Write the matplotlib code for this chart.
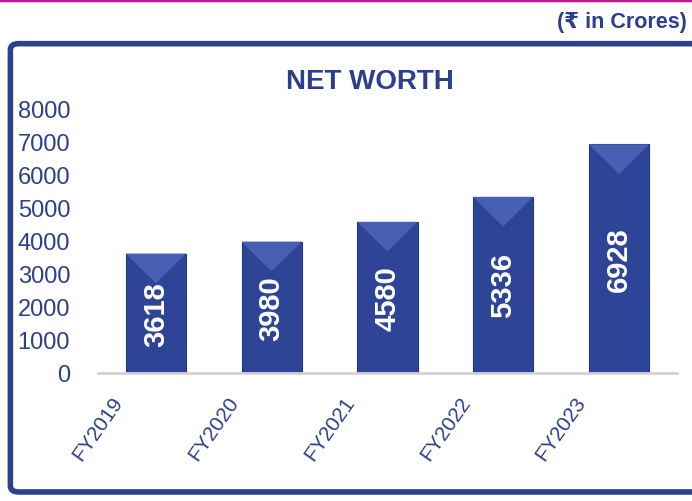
import matplotlib.pyplot as plt
from matplotlib.patches import FancyBboxPatch, Polygon
from matplotlib.transforms import ScaledTranslation

# chart data
years = ['FY2019', 'FY2020', 'FY2021', 'FY2022', 'FY2023']
net_worth = [3618, 3980, 4580, 5336, 6928]
y_ticks = [0, 1000, 2000, 3000, 4000, 5000, 6000, 7000, 8000]

BLUE_TEXT = '#2C3E8E'
BAR_BLUE = '#2E4597'
FRAME_BLUE = '#2E418F'

plt.rcParams['font.family'] = ['Liberation Sans', 'DejaVu Sans']

fig = plt.figure(figsize=(6.92, 5.02), dpi=100)

# magenta strip at the top
fig.add_artist(plt.Line2D([0, 1], [0.998, 0.998], color='#C2168D', lw=2.5,
                          transform=fig.transFigure))

# unit note
fig.text(0.992, 0.956, '(\u20b9 in Crores)', ha='right', va='center',
         fontsize=15.5, fontweight='bold', color=BLUE_TEXT)

# outer rounded frame
frame = FancyBboxPatch((0.015, 0.018), 1.2, 0.893,
                       boxstyle='round,pad=0,rounding_size=0.012',
                       transform=fig.transFigure, fill=False,
                       edgecolor=FRAME_BLUE, lw=4, clip_on=False)
fig.add_artist(frame)

fig.text(0.535, 0.837, 'NET WORTH', ha='center', va='center',
         fontsize=20, fontweight='bold', color=BLUE_TEXT)

ax = fig.add_axes([0.1416, 0.255, 0.8365, 0.526])
x = range(len(years))
bar_w = 0.52
bars = ax.bar(x, net_worth, width=bar_w, color=BAR_BLUE,
              edgecolor='#24387F', lw=0.8, zorder=2)

# simple bevel look on top of each bar
for b in bars:
    x0 = b.get_x()
    x1 = x0 + b.get_width()
    h = b.get_height()
    xc = x0 + b.get_width() / 2
    depth = 900
    top = Polygon([(x0, h), (x1, h), (xc, h - depth)], closed=True,
                  facecolor='#4860B2', edgecolor='none', zorder=3)
    ax.add_patch(top)

for xi, v in zip(x, net_worth):
    ax.text(xi, v / 2, str(v), rotation=90, ha='center', va='center',
            color='white', fontsize=21, fontweight='bold', zorder=4)

ax.set_xlim(-0.5, 4.5)
ax.set_ylim(0, 8000)
ax.set_yticks(y_ticks)
ax.set_yticklabels([str(t) for t in y_ticks])
ax.set_xticks(list(x))
ax.set_xticklabels(years, rotation=55, ha='right', rotation_mode='anchor',
                   va='center')
ax.tick_params(axis='y', length=0, pad=20, labelsize=17, labelcolor=BLUE_TEXT)
ax.tick_params(axis='x', length=0, pad=18, labelsize=15, labelcolor=BLUE_TEXT)

shift = ScaledTranslation(-37 / 100, 0, fig.dpi_scale_trans)
for lbl in ax.get_xticklabels():
    lbl.set_transform(lbl.get_transform() + shift)

for side in ['top', 'right', 'left']:
    ax.spines[side].set_visible(False)
ax.spines['bottom'].set_color('#D3D3D3')
ax.spines['bottom'].set_linewidth(2)
ax.patch.set_alpha(0)

fig.savefig('out.png', dpi=100)
